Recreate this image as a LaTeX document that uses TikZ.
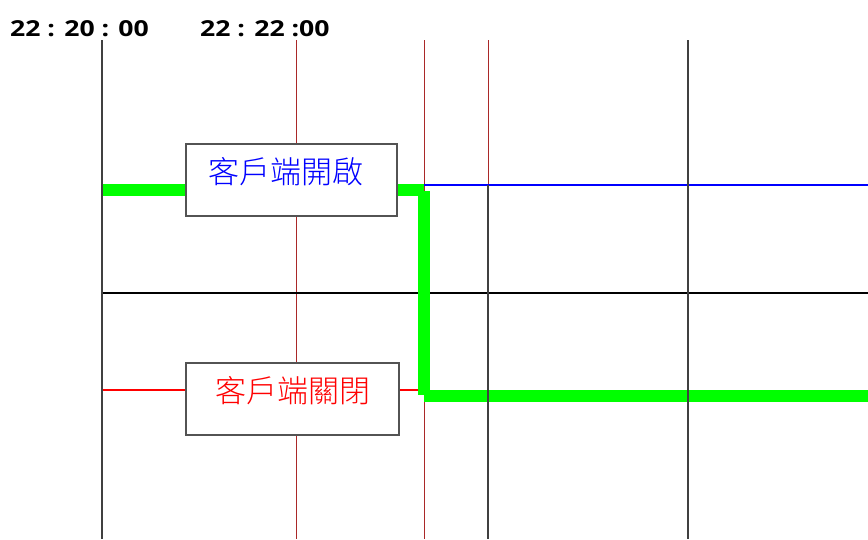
\documentclass[tikz,border=0pt]{standalone}
\usepackage{fontspec}
\usepackage{tikz}
\newfontfamily\cjk{Noto Sans CJK TC Light}
\newfontfamily\timefont{Open Sans}
\definecolor{gridred}{RGB}{170,40,40}
\definecolor{gridgray}{RGB}{64,64,64}
\definecolor{stategreen}{RGB}{0,255,0}
\newcommand{\widetime}[1]{\scalebox{1.21}[1]{#1}}

\begin{document}
\begin{tikzpicture}[x=1pt,y=-1pt,
	grid/.style={draw=gridgray,line width=1.3pt},
	tick/.style={draw=gridred,line width=1pt},
	state/.style={draw=stategreen,line width=12pt},
	labelbox/.style={shape=rectangle,draw=gridgray!90,fill=white,line width=1.2pt,inner sep=0pt},
	timelabel/.style={font=\timefont\bfseries\fontsize{22}{22}\selectfont,inner sep=0pt}]
	\useasboundingbox (0,0) rectangle (868,539);

	\coordinate (a0) at (102, 40);
	\coordinate (a1) at (102, 539);
	\coordinate (b0) at (296, 40);
	\coordinate (b1) at (296, 539);
	\coordinate (c0) at (424, 40);
	\coordinate (c1) at (424, 539);
	\coordinate (d0) at (488, 40);
	\coordinate (d1) at (488, 185);
	\coordinate (d2) at (488, 539);
	\coordinate (e0) at (688, 40);
	\coordinate (e1) at (688, 539);
	\coordinate (mid0) at (102, 293);
	\coordinate (mid1) at (868, 293);
	\coordinate (on0) at (424, 185);
	\coordinate (on1) at (868, 185);
	\coordinate (off0) at (102, 390);
	\coordinate (off1) at (424, 390);
	\coordinate (g0) at (102, 190);
	\coordinate (g1) at (424, 190);
	\coordinate (g2) at (424, 191);
	\coordinate (g3) at (424, 395);
	\coordinate (g4) at (424, 396);
	\coordinate (g5) at (868, 396);

	\path[tick] (b0) edge (b1);
	\path[tick] (c0) edge (c1);
	\path[tick] (d0) edge (d1);
	\path[grid,line width=1.5pt,draw=black] (mid0) edge (mid1);
	\path[draw=blue,line width=1.2pt] (on0) edge (on1);
	\path[draw=red,line width=1.2pt] (off0) edge (off1);

	\path[state] (g0) edge (g1);
	\path[state] (g2) edge (g3);
	\path[state] (g4) edge (g5);

	\path[grid] (a0) edge (a1);
	\path[grid] (d1) edge (d2);
	\path[grid] (e0) edge (e1);

	\node[labelbox,minimum width=211pt,minimum height=72pt] (openbox) at (291.5, 180) {};
	\node[labelbox,minimum width=213pt,minimum height=72pt] (closebox) at (292.5, 399) {};
	\node[text=blue,inner sep=0pt,font=\cjk\fontsize{31}{31}\selectfont] (opentext) at (285.5, 172) {客戶端開啟};
	\node[text=red,inner sep=0pt,font=\cjk\fontsize{31}{31}\selectfont] (closetext) at (293, 391) {客戶端關閉};

	\node[timelabel,anchor=base west] (start) at (10, 36) {\widetime{22 : 20 : 00}};
	\node[timelabel,anchor=base west] (later) at (200, 36) {\widetime{22 : 22 :00}};
\end{tikzpicture}
\end{document}
